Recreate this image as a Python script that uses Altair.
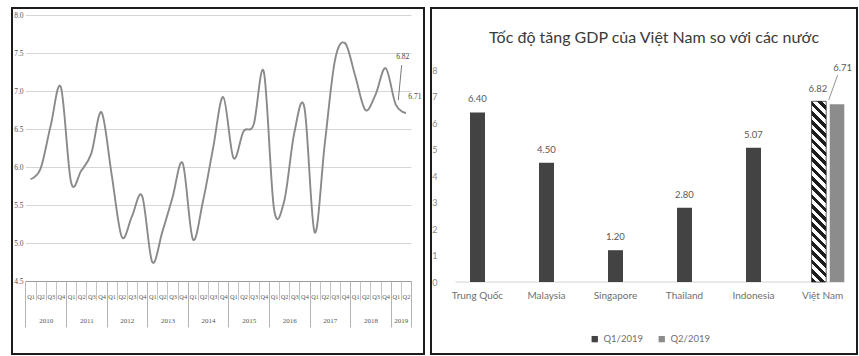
import altair as alt
import pandas as pd

# ---------------------------------------------------------------
# Quarterly GDP growth of Vietnam, Q1/2010 - Q2/2019 (%)
# ---------------------------------------------------------------
quarter_names = ["Q1", "Q2", "Q3", "Q4"]
years = [2010, 2011, 2012, 2013, 2014, 2015, 2016, 2017, 2018, 2019]
quarters_in_year = [4, 4, 4, 4, 4, 4, 4, 4, 4, 2]
gdp_growth = [
    5.84, 5.98, 6.55, 7.05,   # 2010
    5.80, 5.95, 6.18, 6.72,   # 2011
    5.90, 5.08, 5.35, 5.62,   # 2012
    4.75, 5.15, 5.60, 6.05,   # 2013
    5.05, 5.55, 6.25, 6.92,   # 2014
    6.12, 6.47, 6.56, 7.25,   # 2015
    5.45, 5.55, 6.45, 6.78,   # 2016
    5.14, 6.30, 7.40, 7.63,   # 2017
    7.20, 6.75, 6.95, 7.30,   # 2018
    6.82, 6.71,               # 2019
]
left_ticks = [4.5, 5.0, 5.5, 6.0, 6.5, 7.0, 7.5, 8.0]
labelled_quarters = [36, 37]

# ---------------------------------------------------------------
# GDP growth: Vietnam compared with other economies
# ---------------------------------------------------------------
countries = ["Trung Quốc", "Malaysia", "Singapore", "Thailand", "Indonesia", "Việt Nam"]
growth_q1_2019 = [6.40, 4.50, 1.20, 2.80, 5.07, 6.82]
growth_q2_2019 = [None, None, None, None, None, 6.71]
periods = ["Q1/2019", "Q2/2019"]
right_ticks = [0, 1, 2, 3, 4, 5, 6, 7, 8]

right_title = "Tốc độ tăng GDP của Việt Nam so với các nước"

# ---------------- tables ----------------
rows, i = [], 0
for yr, n in zip(years, quarters_in_year):
    for q in range(n):
        rows.append({"idx": i, "quarter": quarter_names[q], "year": yr, "value": gdp_growth[i]})
        i += 1
df_q = pd.DataFrame(rows)
N = len(df_q)

starts, s = [], 0
for n in quarters_in_year:
    starts.append(s)
    s += n
year_mids = [st + (n - 1) / 2 for st, n in zip(starts, quarters_in_year)]
year_bounds = [st - 0.5 for st in starts] + [N - 0.5]
quarter_bounds = [k - 0.5 for k in range(N + 1)]

quarter_expr = "[" + ",".join(f"'{q}'" for q in df_q["quarter"]) + "][datum.value]"
year_at = [""] * N
for m, yr in zip(year_mids, years):
    year_at[int(m)] = str(yr)
year_expr = "[" + ",".join(f"'{y}'" for y in year_at) + "][floor(datum.value)]"

df_lab = df_q[df_q["idx"].isin(labelled_quarters)].copy()
df_lab["label"] = df_lab["value"].map(lambda v: f"{v:.2f}")
first_lab = df_lab.iloc[[0]].copy()
# leader from the first labelled point up to its label
first_lab["x0"] = first_lab["idx"] + 0.25
first_lab["x1"] = first_lab["idx"] + 0.58
first_lab["y0"] = first_lab["value"] + 0.06
first_lab["y1"] = first_lab["value"] + 0.52
second_lab = df_lab.iloc[[1]]

bar_rows = []
for c, v1, v2 in zip(countries, growth_q1_2019, growth_q2_2019):
    paired = v2 is not None
    bar_rows.append({"country": c, "period": periods[0], "value": v1, "paired": paired})
    if paired:
        bar_rows.append({"country": c, "period": periods[1], "value": v2, "paired": paired})
df_bars = pd.DataFrame(bar_rows)
df_bars["label"] = df_bars["value"].map(lambda v: f"{v:.2f}")

vn_index = countries.index("Việt Nam")
leader = pd.DataFrame([{
    "u0": vn_index + 0.59, "u1": vn_index + 0.72,
    "v0": growth_q2_2019[vn_index] + 0.16, "v1": growth_q2_2019[vn_index] + 1.10,
    "label": f"{growth_q2_2019[vn_index]:.2f}",
}])
# category-axis baseline, a little inset from the band edges
baseline = pd.DataFrame([{"u0": 0.18, "u1": len(countries) - 0.18, "v": 0}])

# ---------------- styles ----------------
FRAME = alt.ViewBackground(stroke="#1c1c1c", strokeWidth=2, fill="white")
SERIF = "Liberation Serif"
SANS = "Lato"
LINE_GRAY = "#8a8a8a"
DARK = "#434343"
MID = "#8c8c8c"
TXT = "#6f6f6f"

# ---------------- left panel: quarterly line ----------------
LW, LH = 412, 346
lx = alt.Scale(domain=[-0.5, N - 0.5], range=[13.4, 399], nice=False, zero=False)
# 76 px per percentage point; a little headroom above the 8.0 gridline
ly = alt.Scale(domain=[4.5, 8.05], range=[273, 3.2], nice=False, zero=False)
L_OFF = 273 - LH

ly_axis = alt.Axis(
    values=left_ticks, format=".1f", offset=-13, ticks=False, domain=False,
    labelPadding=2, labelFont=SERIF, labelFontSize=7.5, labelColor="#555",
    labelFlush=False, labelOverlap=False, labelBound=False,
    grid=True, gridColor="#d6d6d6", gridWidth=1, title=None)
lq_axis = alt.Axis(
    orient="bottom", offset=L_OFF, values=list(range(N)), labelExpr=quarter_expr,
    ticks=False, domain=True, domainColor="#9a9a9a", domainWidth=1,
    labelFont=SERIF, labelFontSize=6.3, labelColor="#555", labelPadding=12,
    labelOverlap=False, labelFlush=False, grid=False, title=None)

y_left = alt.Y("value:Q", scale=ly, axis=ly_axis)

curve = alt.Chart(df_q).mark_line(
    interpolate="cardinal", tension=0, color=LINE_GRAY, strokeWidth=1.9
).encode(x=alt.X("idx:Q", scale=lx, axis=lq_axis), y=y_left)

x_noaxis = alt.X("idx:Q", scale=lx, axis=None)
lab1 = alt.Chart(first_lab).mark_text(
    font=SERIF, fontSize=7.5, color="#444", dx=7, dy=-48
).encode(x=x_noaxis, y=y_left, text="label:N")
lead1 = alt.Chart(first_lab).mark_rule(color="#555", strokeWidth=0.8).encode(
    x=alt.X("x0:Q", scale=lx, axis=None), x2="x1",
    y=alt.Y("y0:Q", scale=ly, axis=ly_axis), y2="y1")
lab2 = alt.Chart(second_lab).mark_text(
    font=SERIF, fontSize=7.5, color="#444", dx=9, dy=-16
).encode(x=x_noaxis, y=y_left, text="label:N")


def axis_only(values, **kw):
    return alt.Chart(pd.DataFrame({"p": values})).mark_point(opacity=0).encode(
        x=alt.X("p:Q", scale=lx, axis=alt.Axis(
            orient="bottom", offset=L_OFF, values=values, grid=False, title=None,
            labelOverlap=False, labelFlush=False, **kw)))


year_axis = axis_only(year_mids, labelExpr=year_expr, ticks=False, domain=False,
                      labelFont=SERIF, labelFontSize=7, labelColor="#555", labelPadding=35)
quarter_sep = axis_only(quarter_bounds, labels=False, domain=False, ticks=True,
                        tickSize=19, tickColor="#c4c4c4", tickWidth=1)
year_sep = axis_only(year_bounds, labels=False, domain=False, ticks=True,
                     tickSize=46, tickColor="#b4b4b4", tickWidth=1)

left = alt.layer(curve, lead1, lab1, lab2, year_axis, quarter_sep, year_sep).resolve_scale(
    x="independent").resolve_axis(x="independent").properties(
    width=LW, height=LH, view=FRAME)

# ---------------- right panel: bars ----------------
RW, RH = 426, 346
band_range = [12, 426]
rx = alt.Scale(domain=countries, range=band_range, paddingInner=0, paddingOuter=0)
ry = alt.Scale(domain=[0, 8], range=[274, 62], nice=False, zero=True)
R_OFF = 274 - RH

rx_axis = alt.Axis(
    orient="bottom", offset=R_OFF, ticks=False, domain=False,
    labelFont=SANS, labelFontSize=10, labelColor=TXT, labelPadding=8, labelAngle=0,
    title=None)
ry_axis = alt.Axis(
    values=right_ticks, offset=-9, ticks=False, domain=False, grid=False,
    labelPadding=3, labelFont=SANS, labelFontSize=9, labelColor="#8a8a8a",
    labelFlush=False, labelOverlap=False, title=None)
x_cat = alt.X("country:N", sort=countries, scale=rx, axis=rx_axis)
y_val = alt.Y("value:Q", scale=ry, axis=ry_axis)
color_enc = alt.Color("period:N", scale=alt.Scale(domain=periods, range=[DARK, MID]),
                      legend=alt.Legend(orient="none", legendX=578, legendY=326,
                                        direction="horizontal", title=None,
                                        symbolType="square", symbolSize=40,
                                        symbolStrokeWidth=0, labelFont=SANS,
                                        labelFontSize=9.5, labelColor=TXT,
                                        columnPadding=14))

# paired bars: ~14.5px wide, ~3.5px apart inside a category band
OFF_INNER, OFF_OUTER = 0.2, 1.0
x_off = alt.XOffset("period:N", scale=alt.Scale(domain=periods, paddingInner=OFF_INNER,
                                                 paddingOuter=OFF_OUTER, align=0.65))
step = (band_range[1] - band_range[0]) / len(countries)
off_step = step / (2 - OFF_INNER + 2 * OFF_OUTER)
BAR_W = off_step * (1 - OFF_INNER)

# diagonal hatching for the Q1 bar of the paired group
px_per_unit = (274 - 62) / 8
hatch_h = growth_q1_2019[vn_index] * px_per_unit
hatch_w = BAR_W
t = (hatch_w + hatch_h) / (hatch_w ** 2 + hatch_h ** 2)
N_STRIPES = 21
stops = []
for k in range(N_STRIPES):
    a, b, c = k / N_STRIPES, (k + 0.5) / N_STRIPES, (k + 1) / N_STRIPES
    stops += [alt.GradientStop(offset=a, color="#1d1d1d"),
              alt.GradientStop(offset=b, color="#1d1d1d"),
              alt.GradientStop(offset=b, color="#ffffff"),
              alt.GradientStop(offset=c, color="#ffffff")]
hatch = alt.LinearGradient(gradient="linear", stops=stops,
                           x1=0, y1=1, x2=t * hatch_w, y2=1 - t * hatch_h)

x_cat_plain = alt.X("country:N", sort=countries, scale=rx, axis=None)
base = alt.Chart(df_bars)
bars_single = base.transform_filter("!datum.paired").mark_bar(width=15).encode(
    x=x_cat, y=y_val, color=color_enc)
bars_pair = base.transform_filter("datum.paired").mark_bar().encode(
    x=x_cat_plain, xOffset=x_off, y=y_val, color=color_enc)
bars_hatch = base.transform_filter(
    f"datum.paired && datum.period == '{periods[0]}'").mark_bar(
    fill=hatch, stroke="#2a2a2a", strokeWidth=0.7).encode(
    x=x_cat_plain, xOffset=x_off, y=y_val)
text_single = base.transform_filter("!datum.paired").mark_text(
    baseline="bottom", dy=-8, font=SANS, fontSize=9.5, color="#595959").encode(
    x=x_cat_plain, y=y_val, text="label:N")
text_pair = base.transform_filter(
    f"datum.paired && datum.period == '{periods[0]}'").mark_text(
    baseline="bottom", dy=-7, font=SANS, fontSize=9.5, color="#595959").encode(
    x=x_cat_plain, xOffset=x_off, y=y_val, text="label:N")

ux = alt.Scale(domain=[0, len(countries)], range=band_range, nice=False, zero=False)
base_rule = alt.Chart(baseline).mark_rule(color="#d2d2d2", strokeWidth=1).encode(
    x=alt.X("u0:Q", scale=ux, axis=None), x2="u1",
    y=alt.Y("v:Q", scale=ry, axis=ry_axis))
leader_rule = alt.Chart(leader).mark_rule(color="#777", strokeWidth=0.8).encode(
    x=alt.X("u0:Q", scale=ux, axis=None), x2="u1",
    y=alt.Y("v0:Q", scale=ry, axis=ry_axis), y2="v1")
leader_text = alt.Chart(leader).mark_text(
    align="center", baseline="middle", dx=5, dy=-7, font=SANS, fontSize=9.5,
    color="#595959").encode(
    x=alt.X("u1:Q", scale=ux, axis=None),
    y=alt.Y("v1:Q", scale=ry, axis=ry_axis), text="label:N")

right = alt.layer(base_rule, bars_single, bars_pair, bars_hatch, text_single, text_pair,
                  leader_rule, leader_text).resolve_scale(
    x="independent", xOffset="independent").properties(
    width=RW, height=RH, view=FRAME,
    title=alt.TitleParams(right_title, anchor="middle", offset=-38, dx=10,
                          font=SANS, fontSize=16, fontWeight="normal", color="#3a3a3a"))

chart = alt.hconcat(left, right, spacing=5).properties(
    padding={"left": 11, "top": 7, "right": 0, "bottom": 0}, background="white")

chart.save("out.html", embed_options={"renderer": "svg", "actions": False})
